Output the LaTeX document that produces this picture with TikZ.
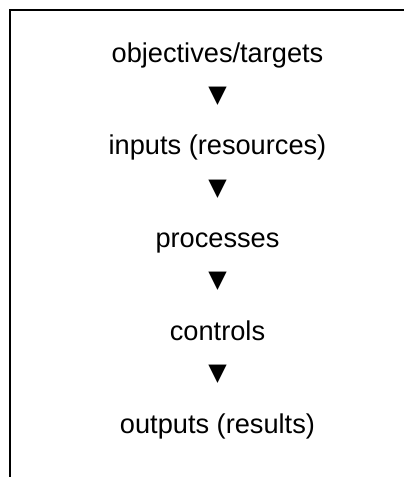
\documentclass[tikz,border=0pt]{standalone}
\usepackage{fontspec}
\setmainfont{Liberation Sans}
\newfontfamily\symfont{DejaVu Sans}
\begin{document}
\begin{tikzpicture}[x=1pt,y=-1pt,
  label/.style={anchor=base,inner sep=0pt,font=\fontsize{27.2}{32}\selectfont},
  arrowmark/.style={anchor=center,inner sep=0pt,font=\symfont\fontsize{24}{28}\selectfont}]
\useasboundingbox (0,0) rectangle (404,477);
\draw[line width=1.6pt] (10,478) -- (10,10) -- (405,10);
\node[label] (t1) at (217.5,62) {objectives/targets};
\node[arrowmark] (a1) at (217.5,96) {▼};
\node[label] (t2) at (217.5,154.8) {inputs (resources)};
\node[arrowmark] (a2) at (217.5,188.8) {▼};
\node[label] (t3) at (217.5,247.6) {processes};
\node[arrowmark] (a3) at (217.5,281.6) {▼};
\node[label] (t4) at (217.5,340.4) {controls};
\node[arrowmark] (a4) at (217.5,374.4) {▼};
\node[label] (t5) at (217.5,433.2) {outputs (results)};
\end{tikzpicture}
\end{document}
